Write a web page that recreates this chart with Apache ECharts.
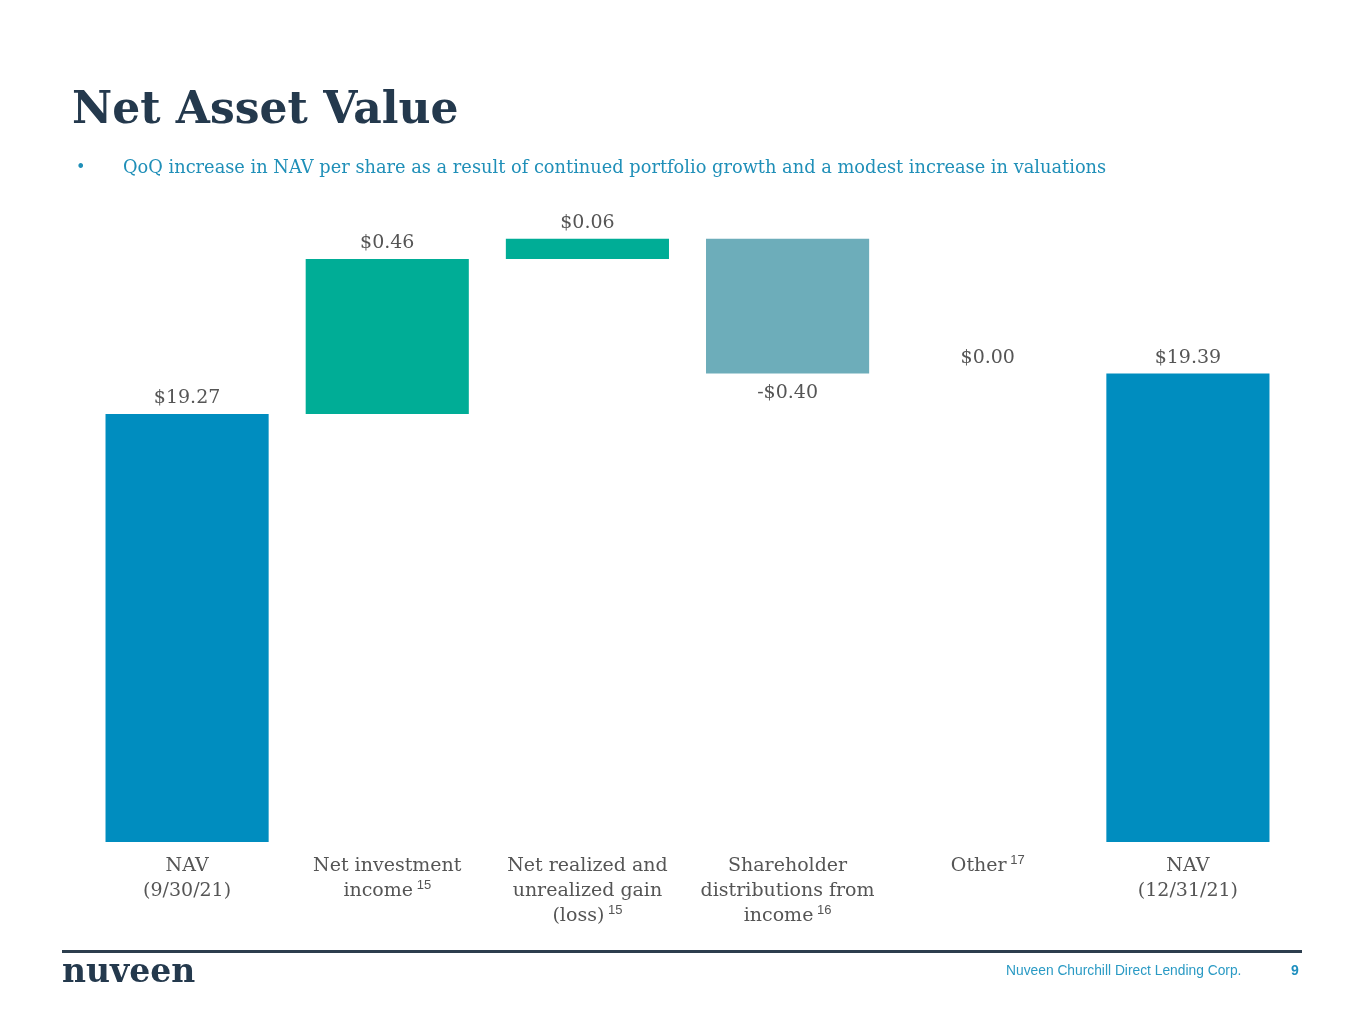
<!DOCTYPE html>
<html>
<head>
<meta charset="utf-8">
<script src="https://cdn.jsdelivr.net/npm/echarts@6/dist/echarts.min.js"></script>
<style>
html,body{margin:0;padding:0;background:#fff;}
#c{width:1365px;height:1024px;}
</style>
</head>
<body>
<div id="c"></div>
<script>
// ---- data ----
const categories = [
  ['NAV', '(9/30/21)'],
  ['Net investment', 'income|15'],
  ['Net realized and', 'unrealized gain', '(loss)|15'],
  ['Shareholder', 'distributions from', 'income|16'],
  ['Other|17'],
  ['NAV', '(12/31/21)']
];
const values = [19.27, 0.46, 0.06, -0.40, 0.00, 19.39];
const kinds = ['total', 'delta', 'delta', 'delta', 'delta', 'total'];
const valueLabels = ['$19.27', '$0.46', '$0.06', '-$0.40', '$0.00', '$19.39'];

const colors = { total: '#008DBF', up: '#00AD96', down: '#6DADBA' };
const serif = '"DejaVu Serif", Georgia, serif';

// build waterfall
const base = [], vis = [];
let run = 0;
values.forEach((v, i) => {
  if (kinds[i] === 'total') {
    base.push(0); vis.push(v); run = v;
  } else {
    if (v >= 0) { base.push(run); vis.push(v); }
    else { base.push(run + v); vis.push(-v); }
    run += v;
  }
});

const catNames = categories.map((c, i) => 'c' + i);
function fmtCat(val) {
  const i = catNames.indexOf(val);
  return categories[i].map(line => {
    const p = line.split('|');
    return p.length > 1 ? '{t|' + p[0] + '}{s| ' + p[1] + '}' : '{t|' + p[0] + '}';
  }).join('\n');
}

const chart = echarts.init(document.getElementById('c'), null, { renderer: 'canvas' });
chart.setOption({
  animation: false,
  backgroundColor: '#ffffff',
  grid: { left: 87, right: 77, top: 168, bottom: 182 },
  xAxis: {
    type: 'category',
    data: catNames,
    axisLine: { show: false },
    axisTick: { show: false },
    axisLabel: {
      interval: 0,
      margin: 12,
      formatter: fmtCat,
      rich: {
        t: { fontFamily: serif, fontSize: 19, color: '#555555', lineHeight: 25 },
        s: { fontFamily: 'Liberation Sans, Arial, sans-serif', fontSize: 13, color: '#555555', lineHeight: 25, verticalAlign: 'top', padding: [0, 0, 9, 0] }
      }
    }
  },
  yAxis: {
    type: 'value', min: 18, max: 20, show: false,
    splitLine: { show: false }
  },
  series: [
    {
      type: 'bar', stack: 'w', data: base, barWidth: '81.5%',
      itemStyle: { color: 'transparent' }, silent: true
    },
    {
      type: 'bar', stack: 'w', barWidth: '81.5%',
      data: vis.map((v, i) => {
        const neg = kinds[i] === 'delta' && values[i] < 0;
        return {
          value: v,
          itemStyle: { color: kinds[i] === 'total' ? colors.total : (values[i] >= 0 ? colors.up : colors.down) },
          label: {
            show: true,
            position: neg ? 'bottom' : 'top',
            distance: neg ? 10 : 6,
            formatter: () => valueLabels[i],
            fontFamily: serif, fontSize: 19, color: '#555555'
          }
        };
      })
    }
  ],
  graphic: [
    { type: 'text', left: 72, top: 90, style: { text: 'Net Asset Value', font: 'bold 44px ' + serif, fill: '#24394D' } },
    { type: 'text', left: 76, top: 160, style: { text: '•', font: '16px ' + serif, fill: '#1F8FB8' } },
    { type: 'text', left: 123, top: 159, style: { text: 'QoQ increase in NAV per share as a result of continued portfolio growth and a modest increase in valuations', font: '17.8px ' + serif, fill: '#1F8FB8' } },
    { type: 'rect', shape: { x: 62, y: 950, width: 1240, height: 3 }, style: { fill: '#2D3E4E' } },
    { type: 'text', left: 62, top: 957, style: { text: 'nuveen', font: 'bold 33px ' + serif, fill: '#24394D' } },
    { type: 'text', left: 1006, top: 964, style: { text: 'Nuveen Churchill Direct Lending Corp.', font: '13.8px "Liberation Sans", Arial, sans-serif', fill: '#2A9AC4' } },
    { type: 'text', left: 1291, top: 964, style: { text: '9', font: 'bold 14px "Liberation Sans", Arial, sans-serif', fill: '#1E8FBF' } }
  ]
});
</script>
</body>
</html>
